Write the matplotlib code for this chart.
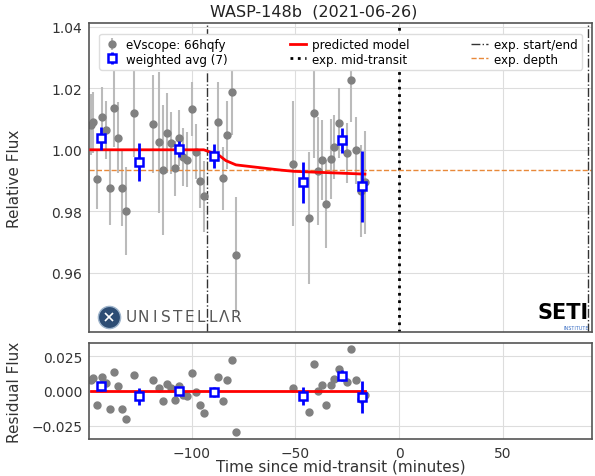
import numpy as np
import matplotlib
matplotlib.use("Agg")
import matplotlib.pyplot as plt

plt.rcParams["font.family"] = ["DejaVu Sans"]

# eVscope 66hqfy measurements (minutes from mid-transit)
time_min = [-148.7, -147.5, -145.5, -143.4, -141.5, -139.4, -137.6, -135.6, -133.6, -131.5,
            -127.7, -118.8, -115.9, -114.0, -111.9, -110.1, -107.9, -106.3, -104.1, -102.1,
            -99.9, -97.9, -96.1, -93.9, -87.5, -84.8, -82.8, -80.7, -78.8, -51.0,
            -43.3, -41.1, -39.1, -37.3, -35.2, -33.1, -31.2, -29.1, -25.2, -23.0,
            -20.6, -18.5, -16.5]
flux = [1.0082, 1.0089, 0.9905, 1.0106, 1.0064, 0.9876, 1.0136, 1.0039, 0.9875, 0.9800,
        1.0120, 1.0084, 1.0024, 0.9934, 1.0055, 1.0022, 0.9940, 1.0038, 0.9976, 0.9968,
        1.0133, 0.9994, 0.9900, 0.9849, 1.0089, 0.9907, 1.0047, 1.0187, 0.9658, 0.9955,
        0.9778, 1.0120, 0.9932, 0.9967, 0.9824, 0.9970, 1.0010, 1.0086, 0.9990, 1.0226,
        0.9998, 0.9867, 0.9894]
flux_err = [0.0100, 0.0100, 0.0098, 0.0098, 0.0095, 0.0120, 0.0127, 0.0116, 0.0121, 0.0143,
            0.0145, 0.0160, 0.0228, 0.0210, 0.0130, 0.0100, 0.0090, 0.0090, 0.0095, 0.0090,
            0.0087, 0.0090, 0.0089, 0.0116, 0.0130, 0.0103, 0.0110, 0.0140, 0.0187, 0.0203,
            0.0215, 0.0146, 0.0176, 0.0130, 0.0143, 0.0130, 0.0104, 0.0114, 0.0098, 0.0135,
            0.0110, 0.0150, 0.0168]
resid = [0.0079, 0.0092, -0.0099, 0.0103, 0.0060, -0.0130, 0.0135, 0.0034, -0.0130, -0.0204,
         0.0115, 0.0081, 0.0024, -0.0070, 0.0050, 0.0019, -0.0065, 0.0038, -0.0029, -0.0036,
         0.0130, -0.0007, -0.0101, -0.0156, 0.0099, -0.0070, 0.0079, 0.0226, -0.0298, 0.0022,
         -0.0150, 0.0191, 0.0002, 0.0040, -0.0103, 0.0045, 0.0085, 0.0161, 0.0063, 0.0306,
         0.0076, -0.0058, -0.0031]

# weighted averages (7 bins)
avg_time = [-143.6, -125.4, -106.1, -89.2, -46.6, -27.4, -17.7]
avg_flux = [1.0037, 0.9961, 1.0003, 0.9980, 0.9894, 1.0031, 0.9881]
avg_err = [0.0038, 0.0061, 0.0025, 0.0038, 0.0066, 0.0041, 0.0116]
avg_resid = [0.0036, -0.0038, 0.0002, -0.0009, -0.0038, 0.0110, -0.0041]

# predicted model
model_time = [-148.7, -94.2, -90.8, -87.6, -83.6, -78.7, -57.0, -50.7, -16.5]
model_flux = [1.0, 1.0, 0.9992, 0.9986, 0.9965, 0.9951, 0.9934, 0.9930, 0.9921]

exp_start, exp_end = -92.8, 91.3
exp_mid = 0.0
exp_depth = 0.99344

fig = plt.figure(figsize=(5.95, 4.77), dpi=100)
ax = fig.add_axes([0.1501, 0.3019, 0.8449, 0.6478])
axr = fig.add_axes([0.1501, 0.0776, 0.8449, 0.2013], sharex=ax)

for a in (ax, axr):
    a.grid(True, color="#dddddd", linewidth=0.8)
    a.set_axisbelow(True)
    for s in a.spines.values():
        s.set_color("#555555")
        s.set_linewidth(1.2)
    a.tick_params(length=0, pad=5, labelsize=10, labelcolor="#333333")

# main panel
ax.errorbar(time_min, flux, yerr=flux_err, fmt="o", color="gray", ms=5,
            ecolor="#bbbbbb", elinewidth=1.5, zorder=2, label="eVscope: 66hqfy")
ax.plot(model_time, model_flux, color="red", lw=2, zorder=3, label="predicted model")
ax.errorbar(avg_time, avg_flux, yerr=avg_err, fmt="s", color="blue", ms=6,
            mfc="white", mec="blue", mew=1.8, elinewidth=2, zorder=4,
            label="weighted avg (7)")
ax.axvline(exp_mid, color="k", ls=":", lw=2, label="exp. mid-transit")
ax.axvline(exp_start, color="#333333", ls="-.", lw=1, label="exp. start/end")
ax.axvline(exp_end, color="#333333", ls="-.", lw=1)
ax.axhline(exp_depth, color="#e8893a", ls="--", lw=1, label="exp. depth")

ax.set_xlim(-149.4, 93.0)
ax.set_ylim(0.9408, 1.0412)
ax.set_yticks([0.96, 0.98, 1.00, 1.02, 1.04])
ax.set_yticklabels(["0.96", "0.98", "1.00", "1.02", "1.04"])
plt.setp(ax.get_xticklabels(), visible=False)
ax.set_ylabel("Relative Flux", fontsize=11, color="#333333")
ax.yaxis.set_label_coords(-0.134, 0.5)

h, l = ax.get_legend_handles_labels()
order = ["eVscope: 66hqfy", "weighted avg (7)", "predicted model",
         "exp. mid-transit", "exp. start/end", "exp. depth"]
hd = dict(zip(l, h))
ax.legend([hd[k] for k in order], order, ncol=3, loc="upper left",
          bbox_to_anchor=(0.008, 0.985, 0.984, 0), mode="expand",
          fontsize=8.6, handlelength=1.4, handletextpad=0.5,
          borderpad=0.35, labelspacing=0.15, framealpha=1, edgecolor="#dddddd")

# logos
ax.plot([0.04], [0.05], "o", ms=16, color="#2d4d74", mec="#9fb5cc", mew=1,
        transform=ax.transAxes, zorder=5)
ax.plot([0.04], [0.05], "x", ms=6, color="white", mew=1.2, transform=ax.transAxes, zorder=6)
for i, ch in enumerate("UNISTELLΛR"):
    ax.text(0.083 + i * 0.0232, 0.05, ch, transform=ax.transAxes, fontsize=11,
            color="#555555", ha="center", va="center")
ax.text(0.993, 0.065, "SETI", transform=ax.transAxes, fontsize=15, fontweight="bold",
        color="black", ha="right", va="center")
ax.text(0.993, 0.015, "INSTITUTE", transform=ax.transAxes, fontsize=3.5,
        color="#3b6fc4", ha="right", va="center")

# residual panel
axr.errorbar(time_min, resid, fmt="o", color="gray", ms=5, zorder=2)
axr.plot([time_min[0], time_min[-1]], [0, 0], color="red", lw=2, zorder=3)
axr.errorbar(avg_time, avg_resid, yerr=avg_err, fmt="s", color="blue", ms=6,
             mfc="white", mec="blue", mew=1.8, elinewidth=2, zorder=4)
axr.set_ylim(-0.0346, 0.0346)
axr.set_yticks([-0.025, 0.0, 0.025])
axr.set_yticklabels(["\u22120.025", "0.000", "0.025"])
axr.set_xticks([-100, -50, 0, 50])
axr.set_ylabel("Residual Flux", fontsize=11, color="#333333")
axr.yaxis.set_label_coords(-0.134, 0.5)
axr.set_xlabel("Time since mid-transit (minutes)", fontsize=11, color="#333333")
axr.xaxis.label.set_va("center")
axr.xaxis.set_label_coords(0.5, -0.28)

fig.text(314 / 595, 1 - 12 / 477, "WASP-148b  (2021-06-26)", fontsize=11.5,
         color="#222222", ha="center", va="center")

fig.savefig("out.png", dpi=100)
